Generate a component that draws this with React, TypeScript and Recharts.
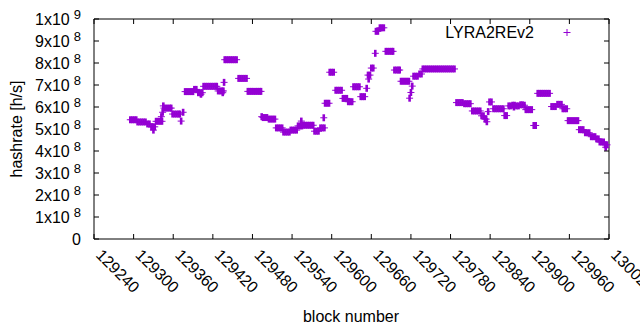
import React from "react";
import { ScatterChart, Scatter, XAxis, YAxis, ReferenceLine } from "recharts";

const PURPLE = "#9400d3";
const FONT = "'Liberation Sans', Arial, sans-serif";

// plot box (gnuplot style, ticks drawn inward on all four sides)
const PLOT_LEFT = 94;
const PLOT_RIGHT = 609;
const PLOT_TOP = 19;
const PLOT_BOTTOM = 239;

const xTicks = [129240, 129300, 129360, 129420, 129480, 129540, 129600, 129660, 129720, 129780, 129840, 129900, 129960, 130020];
const yTicks = [0, 1e8, 2e8, 3e8, 4e8, 5e8, 6e8, 7e8, 8e8, 9e8, 1e9];

// [block number, hashrate in units of 1e8 h/s]
const samples: [number, number][] = [
  [129295, 5.42], [129298, 5.42], [129301, 5.42], [129304, 5.42],
  [129306, 5.32], [129309, 5.32], [129312, 5.32], [129315, 5.32], [129318, 5.32],
  [129321, 5.23], [129324, 5.23], [129327, 5.1], [129329, 5.1], [129330, 4.95], [129332, 5.1],
  [129334, 5.35], [129337, 5.35], [129340, 5.35], [129342, 5.56], [129343, 5.35], [129344, 5.76],
  [129345, 6.05], [129346, 5.95], [129349, 5.95], [129352, 5.95], [129355, 5.95], [129357, 5.95],
  [129359, 5.68], [129362, 5.68], [129365, 5.68], [129368, 5.68], [129370, 5.68],
  [129372, 5.36], [129375, 5.76],
  [129378, 6.7], [129381, 6.7], [129384, 6.7], [129387, 6.7], [129390, 6.7],
  [129392, 6.8], [129395, 6.8],
  [129398, 6.65], [129401, 6.65], [129402, 6.58], [129404, 6.65],
  [129406, 6.94], [129409, 6.94], [129412, 6.94], [129415, 6.94], [129418, 6.94], [129421, 6.94], [129424, 6.94], [129426, 6.94],
  [129428, 6.73], [129431, 6.73], [129434, 6.73], [129435, 6.65], [129436, 6.73],
  [129437, 7.12],
  [129438, 8.15], [129441, 8.15], [129444, 8.15], [129447, 8.15], [129450, 8.15], [129453, 8.15], [129456, 8.15],
  [129459, 7.3], [129462, 7.3], [129465, 7.3], [129468, 7.3], [129471, 7.3],
  [129473, 6.71], [129476, 6.71], [129479, 6.71], [129482, 6.71], [129485, 6.71], [129488, 6.71], [129491, 6.71], [129493, 6.71],
  [129494, 5.56], [129496, 5.52], [129499, 5.52], [129502, 5.52],
  [129505, 5.45], [129508, 5.45], [129511, 5.45], [129514, 5.45],
  [129516, 5.05], [129519, 5.05], [129522, 5.05], [129525, 5.05],
  [129527, 4.86], [129530, 4.86], [129533, 4.86], [129536, 4.86],
  [129538, 4.95], [129541, 4.95], [129544, 4.95], [129547, 4.95],
  [129549, 5.14], [129552, 5.14], [129554, 5.36], [129555, 5.14],
  [129557, 5.17], [129560, 5.17], [129563, 5.17], [129566, 5.17], [129569, 5.17], [129572, 5.17],
  [129574, 4.9], [129577, 4.9], [129580, 4.9],
  [129583, 5.05], [129586, 5.05], [129588, 5.51], [129589, 5.05],
  [129590, 6.17], [129593, 6.17], [129596, 6.17],
  [129597, 7.58], [129600, 7.58], [129603, 7.58],
  [129606, 6.76], [129609, 6.76], [129612, 6.76], [129615, 6.76],
  [129617, 6.39], [129620, 6.39], [129623, 6.39],
  [129625, 6.24], [129628, 6.24], [129631, 6.24],
  [129633, 6.92], [129636, 6.92], [129639, 6.92], [129642, 6.92],
  [129644, 6.47], [129647, 6.47], [129650, 6.47],
  [129653, 6.85],
  [129655, 7.45], [129656, 7.27], [129658, 7.45],
  [129660, 7.77], [129663, 7.77],
  [129666, 8.44],
  [129667, 9.44], [129670, 9.44],
  [129673, 9.6], [129676, 9.6], [129679, 9.6],
  [129682, 8.53], [129685, 8.53], [129688, 8.53], [129691, 8.53], [129693, 8.53],
  [129695, 7.68], [129698, 7.68], [129701, 7.68], [129703, 7.68],
  [129705, 7.17], [129708, 7.17], [129711, 7.17], [129714, 7.17], [129717, 7.17],
  [129718, 6.4], [129720, 6.66], [129722, 6.95],
  [129724, 7.4], [129727, 7.4], [129730, 7.4],
  [129733, 7.5], [129736, 7.5],
  [129738, 7.73], [129741, 7.73], [129744, 7.73], [129747, 7.73], [129750, 7.73], [129753, 7.73],
  [129756, 7.73], [129759, 7.73], [129762, 7.73], [129765, 7.73], [129768, 7.73], [129771, 7.73],
  [129774, 7.73], [129777, 7.73], [129780, 7.73], [129783, 7.73], [129786, 7.73],
  [129789, 6.2], [129792, 6.2], [129795, 6.2], [129798, 6.2], [129801, 6.15], [129804, 6.15], [129807, 6.15], [129810, 6.15],
  [129813, 5.82], [129816, 5.82], [129819, 5.82], [129822, 5.82], [129825, 5.82],
  [129827, 5.6], [129830, 5.6],
  [129832, 5.45], [129834, 5.45], [129835, 5.33],
  [129837, 5.79],
  [129839, 6.23], [129842, 6.23],
  [129845, 5.92], [129848, 5.92], [129851, 5.92], [129854, 5.92], [129857, 5.92], [129860, 5.92],
  [129862, 5.61], [129865, 5.61],
  [129868, 6.05], [129871, 6.05], [129874, 6.08], [129876, 6.0], [129877, 6.08], [129880, 6.05], [129883, 6.05], [129886, 6.1], [129889, 6.1], [129892, 6.08],
  [129894, 5.88], [129897, 5.88], [129900, 5.88], [129903, 5.88],
  [129906, 5.16], [129909, 5.16],
  [129912, 6.62], [129915, 6.62], [129918, 6.62], [129921, 6.62], [129924, 6.62], [129927, 6.62], [129930, 6.62],
  [129933, 6.02], [129936, 6.02], [129939, 6.02],
  [129942, 6.12], [129945, 6.12], [129948, 6.12],
  [129950, 5.92], [129953, 5.92], [129956, 5.92],
  [129958, 5.38], [129961, 5.38], [129964, 5.38], [129967, 5.38], [129970, 5.38], [129973, 5.38],
  [129975, 4.97], [129978, 4.97], [129981, 4.97],
  [129984, 4.83], [129987, 4.83], [129990, 4.83],
  [129993, 4.65], [129996, 4.65], [129999, 4.65],
  [130001, 4.55], [130004, 4.55],
  [130006, 4.41], [130009, 4.41], [130012, 4.41],
  [130014, 4.28], [130015, 4.17], [130017, 4.28],
];

const data = samples.map(([block, v]) => ({ block, rate: v * 1e8 }));

const PlusMark = (props: any) => {
  const { cx, cy } = props;
  if (cx == null || cy == null) return null;
  return (
    <g>
      <line x1={cx - 3.5} x2={cx + 3.5} y1={cy} y2={cy} stroke={PURPLE} strokeWidth={1} />
      <line x1={cx} x2={cx} y1={cy - 3.5} y2={cy + 3.5} stroke={PURPLE} strokeWidth={2.6} />
    </g>
  );
};

const XTick = (props: any) => {
  const { x, payload } = props;
  return (
    <g>
      <line x1={x} x2={x} y1={PLOT_BOTTOM} y2={PLOT_BOTTOM - 5} stroke="#000" />
      <line x1={x} x2={x} y1={PLOT_TOP} y2={PLOT_TOP + 5} stroke="#000" />
      <text
        transform={`translate(${x + 1},${256}) rotate(45)`}
        fontSize={16}
        fontFamily={FONT}
        fill="#000"
        textAnchor="start"
      >
        {payload.value}
      </text>
    </g>
  );
};

const YTick = (props: any) => {
  const { y, payload } = props;
  const v = payload.value as number;
  let main = "0";
  let exp = "";
  if (v > 0) {
    const e = Math.floor(Math.log10(v) + 1e-9);
    main = `${Math.round(v / Math.pow(10, e))}x10`;
    exp = `${e}`;
  }
  return (
    <g>
      <line x1={PLOT_LEFT} x2={PLOT_LEFT + 5} y1={y} y2={y} stroke="#000" />
      <line x1={PLOT_RIGHT - 5} x2={PLOT_RIGHT} y1={y} y2={y} stroke="#000" />
      <text x={81} y={y + 6} fontSize={16} fontFamily={FONT} fill="#000" textAnchor="end">
        {main}
        {exp && (
          <tspan dx={4} dy={-6} fontSize={13}>
            {exp}
          </tspan>
        )}
      </text>
    </g>
  );
};

export default function App() {
  return (
    <div style={{ position: "absolute", left: 0, top: 0, width: 640, height: 330, background: "#fff" }}>
      <ScatterChart width={640} height={330} margin={{ top: PLOT_TOP, right: 640 - PLOT_RIGHT, bottom: 0, left: 0 }}>
        <XAxis
          dataKey="block"
          type="number"
          domain={[129240, 130020]}
          ticks={xTicks}
          interval={0}
          height={330 - PLOT_BOTTOM}
          tickLine={false}
          axisLine={{ stroke: "#000" }}
          tick={<XTick />}
        />
        <YAxis
          dataKey="rate"
          type="number"
          domain={[0, 1e9]}
          ticks={yTicks}
          interval={0}
          width={PLOT_LEFT}
          tickLine={false}
          axisLine={{ stroke: "#000" }}
          tick={<YTick />}
        />
        <ReferenceLine y={1e9} stroke="#000" />
        <ReferenceLine x={130020} stroke="#000" />
        <Scatter data={data} fill={PURPLE} shape={<PlusMark />} isAnimationActive={false} />
      </ScatterChart>
      <svg
        width={640}
        height={330}
        style={{ position: "absolute", left: 0, top: 0, pointerEvents: "none" }}
      >
        <text
          transform="translate(22,129) rotate(-90)"
          textAnchor="middle"
          fontSize={16}
          fontFamily={FONT}
          fill="#000"
        >
          hashrate [h/s]
        </text>
        <text x={351} y={322} textAnchor="middle" fontSize={16} fontFamily={FONT} fill="#000">
          block number
        </text>
        <text x={534} y={38} textAnchor="end" fontSize={16} fontFamily={FONT} fill="#000">
          LYRA2REv2
        </text>
        <line x1={563.5} x2={570.5} y1={32.5} y2={32.5} stroke={PURPLE} />
        <line x1={567} x2={567} y1={29} y2={36} stroke={PURPLE} />
      </svg>
    </div>
  );
}
